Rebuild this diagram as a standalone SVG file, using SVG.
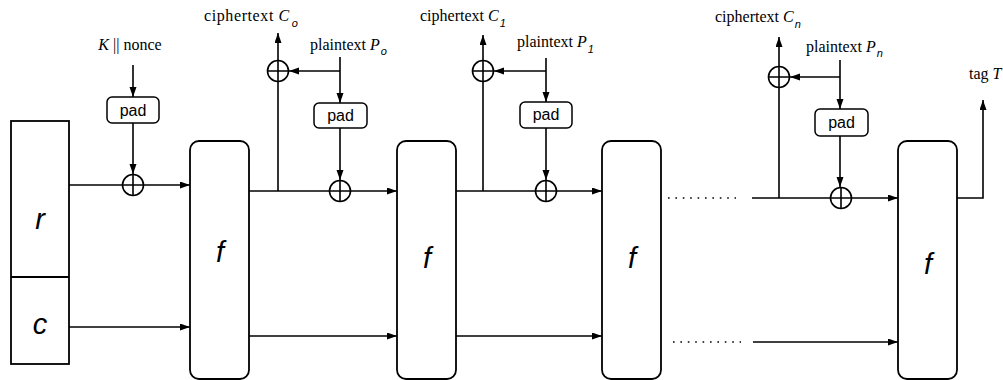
<svg xmlns="http://www.w3.org/2000/svg" width="1003" height="380" viewBox="0 0 1003 380">
<style>
.box{fill:#fff;stroke:#000;stroke-width:1.8}
.ln{fill:none;stroke:#000;stroke-width:1.6}
.arr{marker-end:url(#ah)}
.dot{fill:none;stroke:#000;stroke-width:1.6;stroke-dasharray:1.6 5.8}
.xor{fill:#fff;stroke:#000;stroke-width:1.6}
.serif{font-family:"Liberation Serif","Times New Roman",serif;font-size:16px;fill:#000}
.sub{font-family:"Liberation Sans",Arial,sans-serif;font-style:italic;font-size:11px}
.it{font-style:italic}
.pad{font-family:"Liberation Sans",Arial,sans-serif;font-size:16px;fill:#000;text-anchor:middle}
.big{font-family:"Liberation Sans",Arial,sans-serif;font-style:italic;font-size:29px;fill:#000;text-anchor:middle}
</style>
<defs>
<marker id="ah" markerUnits="userSpaceOnUse" markerWidth="11" markerHeight="8" refX="10" refY="3.5" orient="auto">
<path d="M0,0 L10,3.5 L0,7 z" fill="#000"/>
</marker>
<g id="xorsym"><circle class="xor" r="10.5"/><path class="ln" d="M-10.5,0 H10.5 M0,-10.5 V10.5"/></g>
</defs>

<g id="connectors">
<path class="ln arr" d="M133,65 V97"/>
<path class="ln arr" d="M133,123 V174"/>
<path class="ln arr" d="M69,185 H190"/>
<path class="ln arr" d="M69,327 H190"/>
<path class="ln arr" d="M249,191 H397"/>
<path class="ln arr" d="M278,191 V33"/>
<path class="ln arr" d="M340,57 V103"/>
<path class="ln arr" d="M340,71 H289"/>
<path class="ln arr" d="M340,128 V180"/>
<path class="ln arr" d="M249,336 H397"/>
<path class="ln arr" d="M456,191 H602"/>
<path class="ln arr" d="M483,191 V35"/>
<path class="ln arr" d="M546,58 V102"/>
<path class="ln arr" d="M546,71 H494"/>
<path class="ln arr" d="M546,128 V180"/>
<path class="ln arr" d="M456,336 H602"/>
<path class="dot" d="M668,198 H736"/>
<path class="dot" d="M673,342 H741"/>
<path class="ln arr" d="M752,198 H898"/>
<path class="ln arr" d="M779,198 V37"/>
<path class="ln arr" d="M840,60 V109"/>
<path class="ln arr" d="M840,77 H790"/>
<path class="ln arr" d="M840,136 V187"/>
<path class="ln arr" d="M753,342 H898"/>
<path class="ln arr" d="M957,198 H983 V100"/>
</g>

<g id="state">
<rect class="box" x="11" y="121" width="58" height="243"/>
<line class="ln" x1="11" y1="277" x2="69" y2="277" style="stroke-width:1.8"/>
<text class="big" x="40" y="229">r</text>
<text class="big" x="40" y="334">c</text>
</g>

<g id="f1"><rect class="box" x="190" y="141" width="59" height="238" rx="9"/><text class="big" x="220" y="262">f</text></g>
<g id="f2"><rect class="box" x="397" y="141" width="59" height="238" rx="9"/><text class="big" x="427" y="268">f</text></g>
<g id="f3"><rect class="box" x="602" y="141" width="59" height="238" rx="9"/><text class="big" x="632" y="268">f</text></g>
<g id="f4"><rect class="box" x="898" y="141" width="59" height="238" rx="9"/><text class="big" x="928" y="274">f</text></g>

<g id="pad0"><rect class="box" x="107" y="97" width="52" height="26" rx="5" style="stroke-width:1.5"/><text class="pad" x="133" y="116">pad</text></g>
<g id="pad1"><rect class="box" x="314" y="103" width="53" height="25" rx="5" style="stroke-width:1.5"/><text class="pad" x="340.5" y="121">pad</text></g>
<g id="pad2"><rect class="box" x="520" y="102" width="52" height="26" rx="5" style="stroke-width:1.5"/><text class="pad" x="546" y="120">pad</text></g>
<g id="padn"><rect class="box" x="815" y="109" width="53" height="27" rx="5" style="stroke-width:1.5"/><text class="pad" x="841.5" y="128">pad</text></g>

<g id="xor0"><use href="#xorsym" x="133" y="185"/></g>
<g id="xor1a"><use href="#xorsym" x="278" y="71"/></g>
<g id="xor1b"><use href="#xorsym" x="340" y="191"/></g>
<g id="xor2a"><use href="#xorsym" x="483" y="71"/></g>
<g id="xor2b"><use href="#xorsym" x="546" y="191"/></g>
<g id="xorna"><use href="#xorsym" x="779" y="77"/></g>
<g id="xornb"><use href="#xorsym" x="841" y="198"/></g>

<g id="labels">
<text class="serif" x="130" y="50" text-anchor="middle"><tspan class="it">K</tspan> || nonce</text>
<text class="serif" x="204" y="21" style="letter-spacing:0.6px">ciphertext <tspan class="it">C</tspan><tspan class="sub" dx="2" dy="6">o</tspan></text>
<text class="serif" x="310" y="50">plaintext <tspan class="it">P</tspan><tspan class="sub" dx="1" dy="5">o</tspan></text>
<text class="serif" x="420" y="21">ciphertext <tspan class="it">C</tspan><tspan class="sub" dx="1" dy="6">1</tspan></text>
<text class="serif" x="517" y="47">plaintext <tspan class="it">P</tspan><tspan class="sub" dx="1" dy="6">1</tspan></text>
<text class="serif" x="715" y="22">ciphertext <tspan class="it">C</tspan><tspan class="sub" dx="1" dy="6">n</tspan></text>
<text class="serif" x="806" y="52">plaintext <tspan class="it">P</tspan><tspan class="sub" dx="1" dy="5">n</tspan></text>
<text class="serif" x="969" y="79">tag <tspan class="it">T</tspan></text>
</g>
</svg>
